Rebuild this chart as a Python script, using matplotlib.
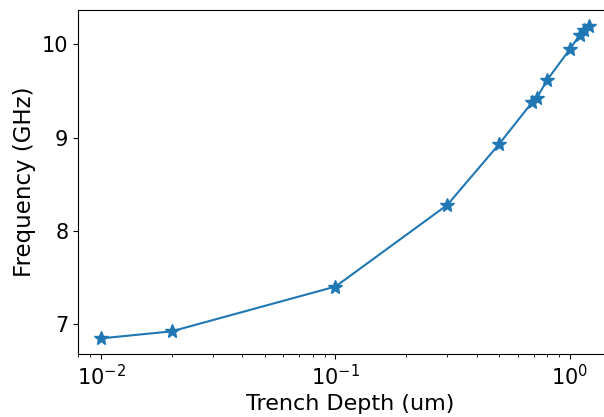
import matplotlib
matplotlib.use("Agg")
import matplotlib.pyplot as plt

# trench depth (um) vs resonance frequency (GHz)
depth = [0.01, 0.02, 0.1, 0.3, 0.5, 0.69, 0.72, 0.8, 1.0, 1.1, 1.15, 1.2]
freq = [6.85, 6.925, 7.405, 8.28, 8.935, 9.38, 9.42, 9.62, 9.95, 10.1, 10.15, 10.2]

fig = plt.figure(figsize=(6.04, 4.17), dpi=100)
# axes runs past the right edge, as in the cropped original
ax = fig.add_axes([78 / 604, 63 / 417, 545 / 604, 344 / 417])

ax.plot(depth, freq, marker='*', markersize=10, color='#1f77b4', linewidth=1.5)
ax.set_xscale('log')
ax.set_xlim(10 ** -2.098, 10 ** 0.226)
ax.set_xlabel('Trench Depth (um)', fontsize=16)
ax.set_ylabel('Frequency (GHz)', fontsize=16.5)
ax.tick_params(labelsize=15)
ax.set_yticks([7, 8, 9, 10])

fig.savefig('out.png', dpi=100)
